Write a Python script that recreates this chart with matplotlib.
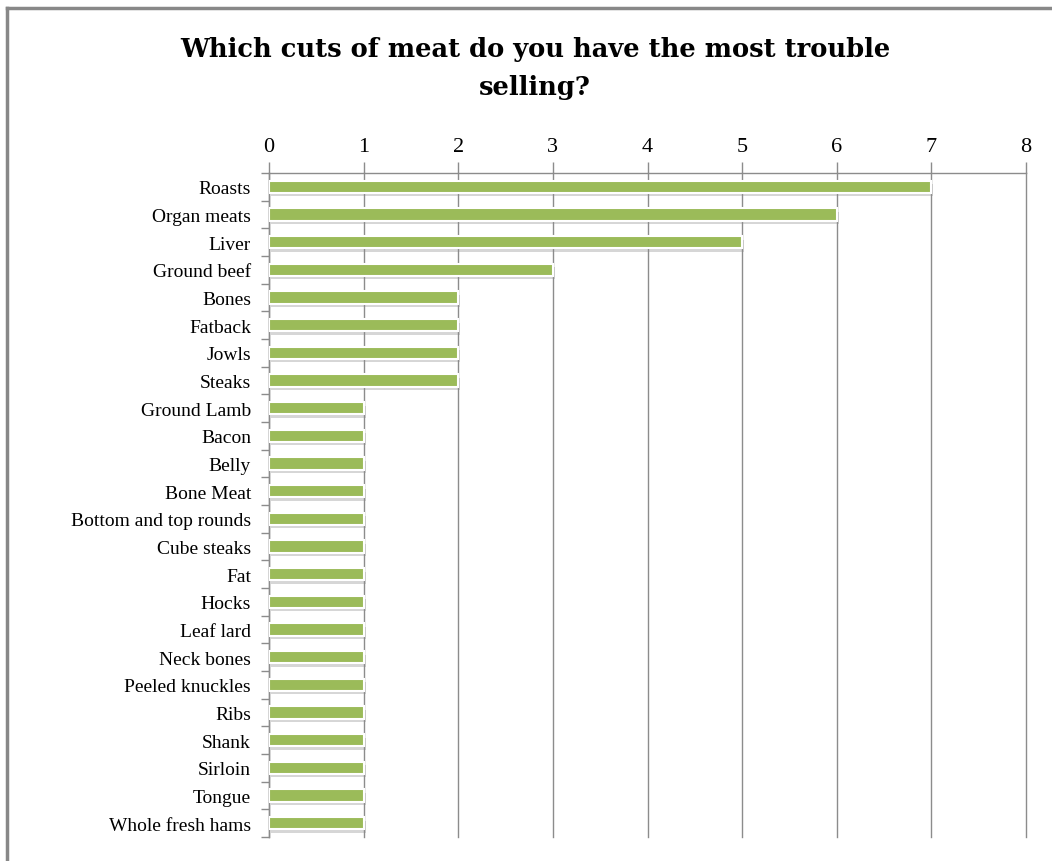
import matplotlib.pyplot as plt
import matplotlib.patheffects as pe
from matplotlib.lines import Line2D
import numpy as np

cuts = ['Roasts', 'Organ meats', 'Liver', 'Ground beef', 'Bones', 'Fatback',
        'Jowls', 'Steaks', 'Ground Lamb', 'Bacon', 'Belly', 'Bone Meat',
        'Bottom and top rounds', 'Cube steaks', 'Fat', 'Hocks', 'Leaf lard',
        'Neck bones', 'Peeled knuckles', 'Ribs', 'Shank', 'Sirloin', 'Tongue',
        'Whole fresh hams']
counts = [7, 6, 5, 3, 2, 2, 2, 2, 1, 1, 1, 1, 1, 1, 1, 1, 1, 1, 1, 1, 1, 1, 1, 1]
x_ticks = [0, 1, 2, 3, 4, 5, 6, 7, 8]

plt.rcParams['font.family'] = ['Liberation Serif', 'DejaVu Serif']

fig = plt.figure(figsize=(10.52, 8.62), dpi=100)
ax = fig.add_axes([269 / 1052, 1 - 838 / 862, (1026 - 269) / 1052, (838 - 174) / 862])

grey = '#8c8c8c'
ind = np.arange(len(cuts))
bars = ax.barh(ind, counts, height=0.44, color='#9BBB59', edgecolor='white',
               linewidth=1.5, zorder=3)
for b in bars:
    b.set_path_effects([pe.SimplePatchShadow(offset=(1.5, -2.5), shadow_rgbFace='#8a8a8a', alpha=0.35),
                        pe.Normal()])

ax.set_xlim(0, 8)
ax.set_ylim(len(cuts) - 0.5, -0.5)
ax.xaxis.tick_top()
ax.set_xticks(x_ticks)
ax.set_xticklabels([str(t) for t in x_ticks], fontsize=16)
ax.tick_params(axis='x', direction='out', length=8, color=grey, width=1, pad=4)
ax.grid(axis='x', color=grey, linewidth=1, zorder=0)
for gl in ax.get_xgridlines():
    gl.set_clip_on(False)

ax.set_yticks(ind)
ax.set_yticklabels(cuts, fontsize=14)
ax.tick_params(axis='y', which='major', length=0, pad=13)
ax.set_yticks(np.arange(len(cuts) + 1) - 0.5, minor=True)
ax.tick_params(axis='y', which='minor', direction='out', length=6, color=grey, width=1)

for s in ['right', 'bottom']:
    ax.spines[s].set_visible(False)
for s in ['top', 'left']:
    ax.spines[s].set_color(grey)
    ax.spines[s].set_linewidth(1)

fig.text(535 / 1052, 1 - 50 / 862, 'Which cuts of meat do you have the most trouble',
         ha='center', va='center', fontsize=18.5, fontweight='bold', family='DejaVu Serif')
fig.text(535 / 1052, 1 - 87 / 862, 'selling?',
         ha='center', va='center', fontsize=18.5, fontweight='bold', family='DejaVu Serif')

# outer chart border
fig.add_artist(Line2D([7 / 1052, 1], [1 - 9 / 862, 1 - 9 / 862], transform=fig.transFigure,
                      color='#888888', linewidth=2.5))
fig.add_artist(Line2D([7 / 1052, 7 / 1052], [0, 1 - 9 / 862], transform=fig.transFigure,
                      color='#888888', linewidth=2.5))

fig.savefig('out.png', dpi=100)
